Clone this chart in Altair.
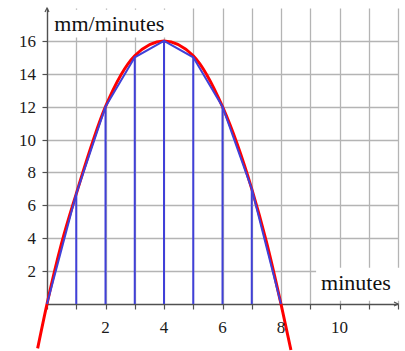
import altair as alt
import pandas as pd

# rate readings at each whole minute (blue chords and verticals)
minutes = [0, 1, 2, 3, 4, 5, 6, 7, 8]
rates = [0, 6.7, 12, 15, 16, 15, 12, 7, 0]

# points along the red curve
curve_x = [-0.32, 0, 0.5, 1, 2, 3, 4, 5, 6, 7, 7.5, 8, 8.34]
curve_y = [-2.7, 0, 3.7, 6.7, 12, 15.1, 16, 15.1, 12, 7, 3.8, 0, -2.8]

# axis ticks and labels
x_ticks = list(range(0, 13))
x_labels = [2, 4, 6, 8, 10]
y_ticks = [2, 4, 6, 8, 10, 12, 14, 16]

# axis captions
captions = ["mm/minutes", "minutes"]
caption_x = [0.25, 9.37]
caption_y = [16.6, 0.85]
# white boxes behind the captions
box_x = [0.1, 9.2]
box_x2 = [4.25, 12.15]
box_y = [16.2, 0.2]
box_y2 = [17.9, 2.2]

# arrow heads at the axis ends
arrow_x = [0, 12]
arrow_y = [18, 0]
arrow_shape = ["M-1,2L0,0L1,2", "M-2,-1L0,0L-2,1"]

FONT = "Liberation Serif"
AXIS_GRAY = "#505050"
TEXT = "#1a1a1a"

xs = alt.Scale(domain=[0, 12], nice=False, zero=False)
ys = alt.Scale(domain=[0, 18], nice=False, zero=False)

x_axis = alt.Axis(values=x_ticks, labels=False, title=None)
y_axis = alt.Axis(values=y_ticks, labels=False, title=None)


def X(field="x"):
    return alt.X(f"{field}:Q", scale=xs, axis=x_axis)


def Y(field="y"):
    return alt.Y(f"{field}:Q", scale=ys, axis=y_axis)


chords = pd.DataFrame({"x": minutes, "y": rates})
curve = pd.DataFrame({"x": curve_x, "y": curve_y})
labels = pd.DataFrame({"x": caption_x, "y": caption_y, "t": captions})
boxes = pd.DataFrame({"x": box_x, "x2": box_x2, "y": box_y, "y2": box_y2})
arrows = pd.DataFrame({"x": arrow_x, "y": arrow_y, "shape": arrow_shape})
tick_text = pd.DataFrame({
    "x": x_labels + [0] * len(y_ticks),
    "y": [0] * len(x_labels) + y_ticks,
    "t": [str(v) for v in x_labels] + [str(v) for v in y_ticks],
    "axis": ["x"] * len(x_labels) + ["y"] * len(y_ticks),
})

box_layer = alt.Chart(boxes).mark_rect(color="white").encode(
    x=X(), x2="x2:Q", y=Y(), y2="y2:Q"
)

red_layer = alt.Chart(curve).mark_line(
    color="#ff0000", strokeWidth=3, interpolate="monotone"
).encode(x=X(), y=Y(), order="x:Q")

verticals = alt.Chart(chords).mark_rule(color="#4040d8", strokeWidth=2).encode(
    x=X(), y=Y(), y2=alt.datum(0)
)

blue_layer = alt.Chart(chords).mark_line(color="#4040d8", strokeWidth=2).encode(
    x=X(), y=Y(), order="x:Q"
)

text_layer = alt.Chart(labels).mark_text(
    fontSize=22, color="#111111", align="left", baseline="alphabetic"
).encode(x=X(), y=Y(), text="t:N")

xlab_layer = alt.Chart(tick_text).transform_filter(
    alt.datum.axis == "x"
).mark_text(
    fontSize=17, color=TEXT, align="center", baseline="alphabetic", dy=29
).encode(x=X(), y=Y(), text="t:N")

ylab_layer = alt.Chart(tick_text).transform_filter(
    alt.datum.axis == "y"
).mark_text(
    fontSize=17, color=TEXT, align="right", baseline="alphabetic", dx=-11, dy=6
).encode(x=X(), y=Y(), text="t:N")

arrow_layer = alt.Chart(arrows).mark_point(
    filled=False, color=AXIS_GRAY, strokeWidth=1.2, size=16, opacity=1
).encode(
    x=X(), y=Y(),
    shape=alt.Shape("shape:N", scale=None, legend=None),
)

chart = alt.layer(
    box_layer, red_layer, verticals, blue_layer, text_layer,
    xlab_layer, ylab_layer, arrow_layer
).properties(
    width=351, height=296,
    autosize=alt.AutoSizeParams(type="none"),
    padding={"left": 47, "top": 8, "right": 7, "bottom": 47},
).configure(
    font=FONT, background="white"
).configure_view(
    stroke=None
).configure_axis(
    grid=True, gridColor="#b4b4b4", gridWidth=1.3,
    domainColor=AXIS_GRAY, domainWidth=1.3,
    tickColor=AXIS_GRAY, tickWidth=1.2, tickSize=5,
)

chart.save("out.html", embed_options={"renderer": "svg", "actions": False})
